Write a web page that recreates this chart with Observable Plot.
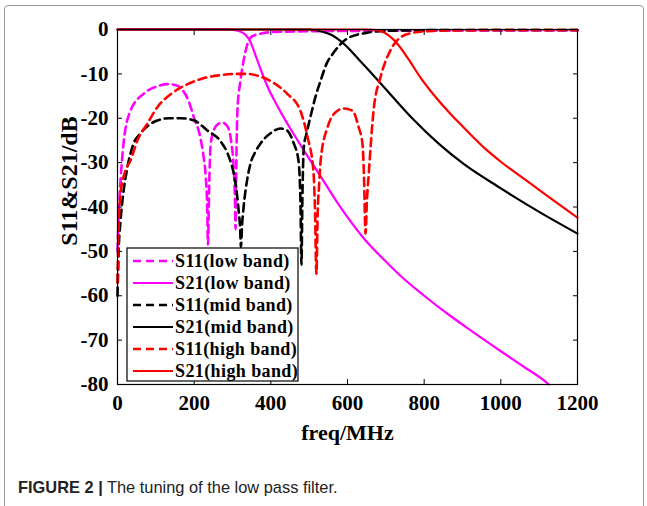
<!DOCTYPE html>
<html>
<head>
<meta charset="utf-8">
<script src="https://cdn.jsdelivr.net/npm/d3@7"></script>
<script src="https://cdn.jsdelivr.net/npm/@observablehq/plot@0.6"></script>
<style>
  html, body { margin: 0; padding: 0; background: #fff; }
  #wrap { position: relative; width: 647px; height: 506px; overflow: hidden; background: #fff; }
  #border { position: absolute; left: 4px; top: 5px; width: 640px; height: 520px; border: 1px solid #9a9a9a; border-radius: 4px; box-sizing: border-box; }
  #chart { position: absolute; left: 0; top: 0; }
  #legend { position: absolute; left: 0; top: 0; }
  #caption { position: absolute; left: 18px; top: 478px; font-family: "Liberation Sans", Arial, sans-serif; font-size: 16.4px; color: #222; white-space: nowrap; }
  #caption b { font-weight: bold; }
</style>
</head>
<body>
<div id="wrap">
  <div id="border"></div>
  <div id="chart"></div>
  <svg id="legend" width="647" height="450"></svg>
  <div id="caption"><b>FIGURE 2 |</b> The tuning of the low pass filter.</div>
</div>
<script>
// ---- data ----
const xTicks = [0, 200, 400, 600, 800, 1000, 1200];
const yTicks = [0, -10, -20, -30, -40, -50, -60, -70, -80];
const xTitle = "freq/MHz";
const yTitle = "S11&S21/dB";
const legendLabels = ["S11(low band)", "S21(low band)", "S11(mid band)", "S21(mid band)", "S11(high band)", "S21(high band)"];

const s11LowF  = [0, 3, 8, 16, 34, 68, 104, 130, 150, 165, 185, 200, 216, 225, 230, 234, 236, 239, 243, 252, 262, 274, 288, 297, 303, 306, 308, 310, 313, 320, 329, 340, 350, 370, 400, 500, 700, 900, 1200];
const s11LowDb = [-50, -42, -34, -25.5, -18.3, -14.5, -12.8, -12.3, -12.5, -13.2, -16, -20, -24.3, -29, -33, -40, -48.5, -36, -26, -22.5, -21.3, -21, -22, -25.5, -31, -37, -45, -30, -18, -12, -7, -3, -1.6, -1, -0.6, -0.4, -0.3, -0.2, -0.2];

const s21LowF  = [0, 290, 310, 321, 335, 347, 360, 375, 391, 408, 425, 450, 478, 530, 582, 640, 700, 738, 800, 860, 913, 1000, 1060, 1117, 1125];
const s21LowDb = [0, 0, -0.2, -0.5, -1.3, -2.8, -5.8, -9.3, -12.8, -15.8, -18.5, -22.2, -26.1, -33.1, -40.1, -46.8, -52.3, -55.5, -60, -64, -67.3, -72.5, -76, -79.4, -80];

const s11MidF  = [0, 3, 8, 13, 26, 42, 60, 81, 104, 135, 165, 200, 235, 269, 285, 295, 308, 316, 320, 322, 325, 329, 338, 347, 360, 373, 399, 425, 440, 460, 472, 477, 480, 482, 486, 493, 503, 517, 530, 545, 564, 600, 652, 700, 900, 1200];
const s11MidDb = [-60, -50, -43, -38.5, -31, -25.7, -23.4, -21.6, -20.5, -20, -20, -20.5, -22.8, -25.2, -27.5, -29.8, -34.7, -40.8, -45, -49, -44, -40, -34, -30.2, -27.5, -25.7, -23.4, -22.3, -22.6, -25.7, -29.5, -37.8, -53, -40, -26.6, -23.5, -19.8, -15, -11.5, -7.8, -5.2, -2, -0.7, -0.3, -0.1, -0.1];

const s21MidF  = [0, 500, 530, 560, 590, 630, 678, 720, 772, 840, 903, 1000, 1033, 1100, 1200];
const s21MidDb = [0, 0, -0.4, -1.3, -3.2, -6.8, -11.3, -15.4, -20.3, -25.9, -30.3, -35.8, -37.6, -41.1, -46];

const s11HighF  = [0, 3, 8, 20, 34, 52, 78, 104, 140, 183, 224, 269, 310, 340, 365, 407, 443, 477, 496, 511, 515, 519, 522, 526, 530, 548, 574, 590, 613, 629, 639, 643, 647, 651, 655, 668, 686, 712, 738, 773, 825, 1000, 1200];
const s11HighDb = [-57, -45, -37, -32, -29.5, -25, -21.2, -17.5, -14.5, -12.3, -11, -10.3, -10, -10, -10.4, -12, -14.5, -18.3, -24.3, -31.8, -40, -55, -42, -35, -29.5, -22, -18.3, -17.8, -18.3, -22, -25.7, -33, -46, -38, -33, -18.3, -10.8, -4.7, -1.8, -0.7, -0.3, -0.1, -0.1];

const s21HighF  = [0, 650, 681, 700, 730, 760, 790, 820, 861, 900, 965, 1000, 1077, 1140, 1200];
const s21HighDb = [0, 0, -0.2, -0.9, -3.2, -6.8, -10.8, -14.2, -18.3, -21.8, -27.3, -29.8, -34.7, -38.7, -42.4];

// ---- styling ----
const serif = "'Liberation Serif', 'Times New Roman', serif";
const series = [
  {f: s11LowF,  db: s11LowDb,  color: "#ff00ff", dash: "8,5"},
  {f: s21LowF,  db: s21LowDb,  color: "#ff00ff", dash: null},
  {f: s11MidF,  db: s11MidDb,  color: "#000000", dash: "8,5"},
  {f: s21MidF,  db: s21MidDb,  color: "#000000", dash: null},
  {f: s11HighF, db: s11HighDb, color: "#ff0000", dash: "8,5"},
  {f: s21HighF, db: s21HighDb, color: "#ff0000", dash: null}
].map((s, i) => ({...s, name: legendLabels[i], rows: s.f.map((f, j) => ({f, db: s.db[j]}))}));

const W = 647, H = 450;
const mL = 117, mR = 70, mT = 29, mB = 66;

const chart = Plot.plot({
  width: W, height: H,
  marginLeft: mL, marginRight: mR, marginTop: mT, marginBottom: mB,
  x: {domain: [0, 1200]},
  y: {domain: [-80, 0]},
  style: {fontFamily: serif, fontWeight: "bold", fontSize: "21px", color: "#000", background: "transparent", overflow: "visible"},
  marks: [
    ...series.map(s => Plot.line(s.rows, {
      x: "f", y: "db", stroke: s.color,
      strokeWidth: s.dash ? 2.6 : 2.2,
      strokeDasharray: s.dash || undefined,
      curve: "monotone-x"
    })),
    Plot.frame({stroke: "#000", strokeWidth: 1.2}),
    Plot.axisX({anchor: "bottom", ticks: xTicks, tickSize: -5, tickPadding: 16, label: null, tickFormat: d => String(d)}),
    Plot.axisX({anchor: "top", ticks: xTicks, tickSize: -5, label: null, tickFormat: () => ""}),
    Plot.axisY({anchor: "left", ticks: yTicks, tickSize: -5, tickPadding: 14, label: null, tickFormat: d => String(d)}),
    Plot.axisY({anchor: "right", ticks: yTicks, tickSize: -5, label: null, tickFormat: () => ""}),
    Plot.text([yTitle], {frameAnchor: "left", dx: -48, dy: -26, rotate: -90, textAnchor: "middle", lineAnchor: "middle", fontSize: 24, fontWeight: "bold", fontFamily: serif, fill: "#000"}),
    Plot.text([xTitle], {frameAnchor: "bottom", dy: 48, lineAnchor: "middle", fontSize: 22, fontWeight: "bold", fontFamily: serif, fill: "#000"})
  ]
});
document.getElementById("chart").appendChild(chart);

// ---- legend ----
const lg = d3.select("#legend");
const box = {x: 127, y: 248, w: 171, h: 133};
lg.append("rect").attr("x", box.x).attr("y", box.y).attr("width", box.w).attr("height", box.h)
  .attr("fill", "#fff").attr("stroke", "#000").attr("stroke-width", 1.2);
const rowH = 22, firstY = 261;
series.forEach((s, i) => {
  const y = firstY + i * rowH;
  lg.append("line").attr("x1", 133).attr("x2", 173).attr("y1", y).attr("y2", y)
    .attr("stroke", s.color).attr("stroke-width", s.dash ? 2.6 : 2.2)
    .attr("stroke-dasharray", s.dash || null);
  lg.append("text").attr("x", 175).attr("y", y).attr("dy", "0.35em")
    .attr("font-family", serif).attr("font-weight", "bold").attr("font-size", 18)
    .attr("letter-spacing", "0.4px")
    .attr("fill", "#000").text(s.name);
});
</script>
</body>
</html>
